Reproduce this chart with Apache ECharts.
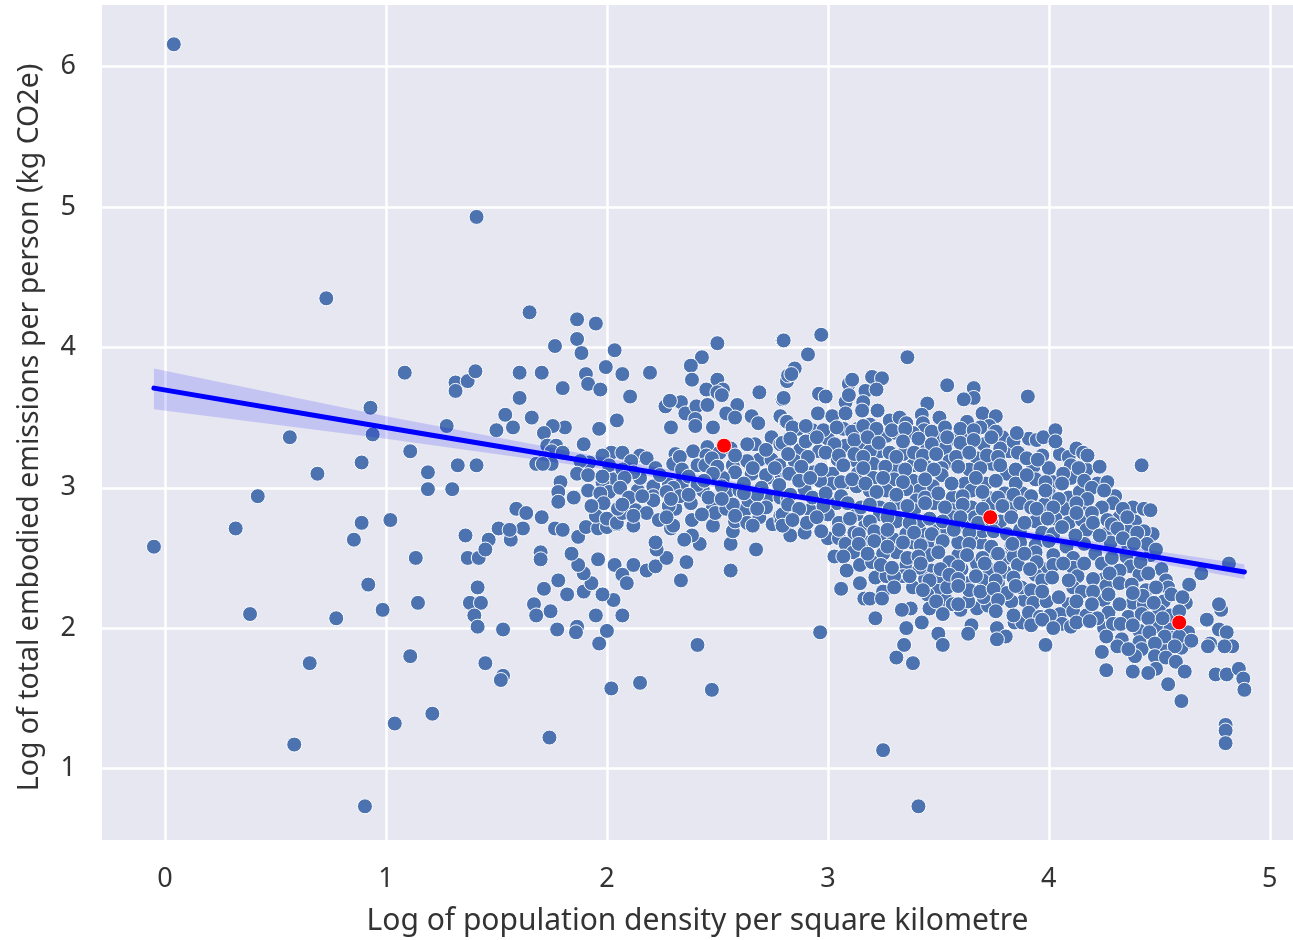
<!DOCTYPE html>
<html><head><meta charset="utf-8">
<script src="https://cdn.jsdelivr.net/npm/echarts@6/dist/echarts.min.js"></script>
<style>html,body{margin:0;padding:0;background:#fff}#c{width:1293px;height:940px}</style>
</head><body><div id="c"></div>
<script>
const xTicks=[0,1,2,3,4,5];
const yTicks=[1,2,3,4,5,6];
const xLabel='Log of population density per square kilometre';
const yLabel='Log of total embodied emissions per person (kg CO2e)';
const sparsePoints=[[.04,6.16],[.73,4.35],[1.41,4.93],[-.05,2.58],[.32,2.71],[.42,2.94],[.565,3.36],[.69,3.10],[.385,2.10],[.775,2.07],[.655,1.75],[.585,1.17],[.905,.73],[1.04,1.32],[1.21,1.39],[1.11,1.80],[.985,2.13],[.92,2.31],[1.145,2.18],[1.135,2.50],[1.02,2.77],[.89,2.75],[.855,2.63],[.89,3.18],[.94,3.38],[.93,3.57],[1.085,3.82],[1.11,3.26],[1.19,3.11],[1.19,2.99],[1.30,2.99],[1.325,3.16],[1.275,3.44],[1.41,3.16],[1.315,3.75],[1.315,3.69],[1.37,3.76],[1.405,3.83],[1.36,2.66],[1.37,2.50],[1.42,2.50],[1.415,2.29],[1.38,2.18],[1.43,2.18],[1.40,2.09],[1.415,2.01],[1.53,1.99],[1.45,1.75],[1.53,1.66],[1.52,1.63],[1.74,1.22],[2.02,1.57],[2.15,1.61],[2.475,1.56],[2.41,1.88],[1.965,1.89],[2.0,1.98],[2.07,2.09],[1.95,2.09],[2.03,2.20],[1.98,2.24],[1.895,2.26],[1.93,2.32],[1.82,2.24],[1.715,2.28],[1.78,2.34],[1.67,2.17],[1.68,2.09],[1.745,2.12],[1.775,1.99],[1.865,2.01],[1.86,1.97],[1.895,2.39],[1.87,2.45],[1.84,2.53],[1.96,2.49],[1.70,2.54],[1.70,2.49],[2.035,2.45],[2.07,2.38],[2.09,2.32],[2.12,2.45],[2.18,2.41],[2.22,2.44],[2.27,2.50],[2.36,2.47],[2.335,2.34],[2.56,2.41],[2.675,2.56],[2.56,2.60],[2.42,2.60],[2.385,2.66],[2.35,2.63],[2.225,2.56],[2.22,2.61],[2.29,2.71],[2.57,2.69],[2.48,2.73],[1.465,2.63],[1.45,2.56],[1.51,2.71],[1.565,2.63],[1.62,2.71],[1.56,2.70],[1.765,2.71],[1.80,2.70],[1.87,2.65],[1.905,2.72],[1.96,2.71],[2.0,2.72],[2.045,2.74],[2.12,2.73],[3.25,1.13],[3.41,.73],[2.965,1.97]];
const midPoints=[[1.65,4.25],[1.865,4.20],[1.95,4.17],[1.865,4.06],[1.765,4.01],[1.885,3.96],[2.035,3.98],[1.995,3.86],[2.07,3.81],[2.195,3.82],[1.905,3.81],[1.915,3.74],[1.97,3.70],[1.80,3.71],[1.605,3.82],[1.705,3.82],[1.605,3.64],[2.105,3.65],[1.54,3.52],[1.66,3.50],[1.575,3.43],[1.50,3.41],[2.045,3.48],[1.965,3.42],[1.81,3.43],[1.755,3.44],[1.715,3.39],[1.895,3.31],[1.73,3.30],[1.77,3.30],[1.75,3.26],[1.80,3.25],[1.72,3.21],[1.68,3.17],[1.75,3.17],[1.71,3.17],[2.02,3.25],[2.07,3.25],[1.98,3.23],[2.15,3.23],[2.18,3.21],[2.11,3.19],[1.92,3.18],[1.88,3.19],[2.01,3.16],[1.865,3.10],[1.915,3.09],[2.03,3.06],[1.98,3.04],[1.79,3.04],[1.78,2.97],[1.78,2.90],[1.85,2.93],[1.915,2.98],[2.01,2.97],[1.97,2.96],[1.985,2.89],[2.14,2.98],[2.21,3.01],[2.21,2.94],[2.21,2.91],[2.15,3.07],[2.28,3.02],[2.34,3.03],[1.59,2.85],[1.635,2.82],[1.705,2.79],[1.95,2.80],[2.0,2.78],[2.045,2.75],[2.13,2.84],[2.18,2.82],[2.07,2.82],[2.05,2.85],[2.235,2.77],[2.31,2.85],[2.38,2.89],[2.385,2.77],[2.30,2.73],[2.48,2.86],[2.49,2.82],[2.54,2.85],[2.58,2.76],[2.625,2.84],[2.635,2.75],[2.69,2.79],[2.75,2.74],[2.50,4.03],[2.43,3.93],[2.38,3.87],[2.385,3.77],[2.50,3.77],[2.525,3.70],[2.45,3.70],[2.50,3.68],[2.52,3.66],[2.795,4.05],[2.69,3.68],[2.795,3.63],[2.335,3.61],[2.265,3.58],[2.285,3.62],[2.355,3.53],[2.405,3.58],[2.455,3.59],[2.59,3.59],[2.54,3.53],[2.58,3.50],[2.40,3.49],[2.40,3.44],[2.29,3.43],[2.48,3.43],[2.655,3.51],[2.685,3.46],[2.745,3.36],[2.67,3.31],[2.635,3.31],[2.39,3.26],[2.455,3.29],[2.51,3.25],[2.31,3.24],[2.45,3.23],[2.41,3.16],[2.445,3.16],[2.30,3.17],[2.475,3.21],[2.785,3.51],[2.81,3.47],[2.785,3.31],[2.815,3.76],[2.57,3.16],[2.58,3.11],[2.655,3.10],[2.69,3.20],[2.635,3.19],[2.745,3.20],[2.77,3.07],[2.815,3.11],[2.725,3.07],[2.525,3.07],[2.54,2.96],[2.435,2.98],[2.64,2.91],[2.60,2.98],[2.73,2.94],[2.785,2.93],[2.785,2.80]];
const westFill=[[2.56,3.28],[2.72,3.27],[2.33,3.22],[2.58,3.23],[2.22,3.14],[2.34,3.13],[2.50,3.15],[2.66,3.14],[2.78,3.16],[2.24,3.09],[2.37,3.08],[2.48,3.10],[2.72,3.09],[2.30,3.00],[2.41,3.02],[2.52,3.01],[2.62,3.03],[2.70,3.00],[2.78,3.02],[2.33,2.94],[2.46,2.93],[2.68,2.95],[2.82,2.92],[2.28,2.87],[2.57,2.88],[2.72,2.86],[2.12,2.80],[2.27,2.79],[2.43,2.81],[2.58,2.80],[2.79,2.76],[2.66,2.73],[2.82,2.74],[2.07,3.13],[2.12,3.11],[1.98,3.08],[2.08,3.07],[2.06,3.00],[2.27,2.97],[2.10,2.93],[2.16,2.94],[2.29,2.92],[1.93,2.87],[2.07,2.88],[2.44,3.05],[2.62,2.96],[2.52,2.92],[2.68,2.85],[2.37,2.95]];
const coreUpper=[[2.97,4.09],[2.80,4.05],[2.91,3.95],[3.36,3.93],[2.85,3.85],[2.82,3.80],[2.835,3.81],[3.54,3.73],[3.66,3.71],[3.66,3.64],[3.615,3.63],[3.905,3.65],[3.20,3.79],[3.245,3.78],[3.095,3.74],[3.11,3.77],[3.17,3.69],[3.22,3.70],[2.96,3.67],[2.99,3.65],[2.80,3.64],[3.08,3.61],[3.16,3.61],[3.095,3.66],[3.45,3.60],[3.155,3.55],[3.225,3.55],[2.955,3.53],[3.02,3.51],[3.08,3.53],[3.505,3.50],[3.70,3.53],[3.76,3.51],[3.63,3.47],[3.28,3.48],[3.325,3.50],[3.355,3.46],[3.425,3.52],[3.43,3.46],[3.73,3.44],[3.69,3.43],[3.855,3.39],[3.79,3.36],[2.815,3.47],[2.865,3.42],[2.93,3.41],[3.07,3.42],[3.135,3.42],[3.19,3.45],[3.265,3.37],[3.31,3.39],[3.435,3.41],[3.385,3.39],[3.63,3.38],[3.57,3.35],[3.50,3.36],[3.705,3.31],[3.82,3.26],[3.78,3.28],[3.00,3.35],[3.08,3.30],[3.155,3.29],[3.235,3.26],[3.19,3.26],[3.34,3.24],[3.45,3.28],[3.53,3.28],[3.675,3.21],[3.62,3.28],[3.895,3.21],[2.875,3.27],[2.96,3.26],[2.795,3.32],[3.045,3.20],[3.13,3.19],[2.85,3.19],[3.385,3.16],[3.30,3.15],[3.205,3.17],[3.445,3.15],[3.55,3.19],[3.515,3.14],[3.64,3.13],[3.745,3.17],[3.81,3.10],[3.89,3.09],[2.825,3.10],[2.935,3.11],[3.02,3.10],[3.135,3.10],[3.30,3.06],[3.205,3.07],[3.515,3.09],[3.385,3.05],[3.62,3.03],[3.715,3.03],[3.475,3.01],[3.09,3.04],[3.02,3.03],[2.965,3.05],[2.895,2.99],[3.415,2.98],[3.355,2.99],[3.265,2.98],[3.19,2.98],[3.13,3.01],[3.565,2.93],[3.65,2.98],[3.80,2.96],[3.88,2.96],[3.725,2.93],[3.48,2.89],[3.40,2.91],[3.31,2.89],[3.04,2.89],[2.92,2.84],[3.00,2.81],[3.745,2.89],[3.83,2.86],[3.65,2.86],[3.565,2.84],[3.39,2.84],[3.235,2.86],[2.795,2.81]];
const coreLower=[[2.83,2.66],[2.895,2.68],[2.795,2.73],[2.905,2.75],[3.00,2.64],[3.05,2.64],[3.08,2.60],[3.115,2.54],[3.03,2.51],[3.07,2.51],[3.18,2.61],[3.17,2.74],[3.245,2.66],[3.30,2.63],[3.31,2.54],[3.25,2.53],[3.085,2.41],[3.145,2.45],[3.20,2.47],[3.355,2.45],[3.215,2.36],[3.265,2.37],[3.145,2.32],[3.34,2.37],[3.30,2.37],[3.06,2.28],[3.25,2.26],[3.165,2.21],[3.19,2.21],[3.245,2.21],[3.385,2.29],[3.47,2.41],[3.44,2.35],[3.495,2.27],[3.45,2.24],[3.215,2.07],[3.375,2.14],[3.335,2.13],[3.46,2.14],[3.535,2.20],[3.425,2.04],[3.355,2.00],[3.345,1.88],[3.31,1.79],[3.385,1.75],[3.50,1.96],[3.52,1.88],[3.65,2.02],[3.635,1.96],[3.60,2.13],[3.675,2.14],[3.725,2.16],[3.705,2.22],[3.635,2.19],[3.635,2.32],[3.565,2.17],[3.765,2.00],[3.805,1.94],[3.765,1.92],[3.845,2.04],[3.88,2.04],[3.89,2.20],[3.83,2.19],[3.875,2.29],[3.77,2.32],[3.80,2.40],[3.73,2.42],[3.70,2.34],[3.885,2.53],[3.805,2.50],[3.83,2.59],[3.745,2.54],[3.69,2.61],[3.655,2.67],[3.59,2.52],[3.59,2.61],[3.49,2.61],[3.43,2.67],[3.45,2.59],[3.385,2.61],[3.36,2.50],[3.415,2.43],[3.55,2.47],[3.46,2.52],[3.505,2.37],[3.605,2.42],[3.675,2.46],[3.54,2.29],[3.64,2.27],[3.81,2.25],[3.565,2.79],[3.665,2.79],[3.89,2.74],[3.31,2.76],[3.235,2.81],[3.12,2.68],[3.355,2.67],[3.13,2.81],[3.495,2.72],[3.415,2.76],[3.61,2.73],[3.54,2.70],[3.78,2.76],[3.70,2.69]];
const coreFill=[[2.84,3.43],[2.90,3.44],[2.98,3.41],[3.04,3.43],[3.11,3.40],[3.16,3.44],[3.22,3.42],[3.29,3.41],[3.35,3.42],[3.47,3.40],[3.53,3.43],[3.60,3.42],[3.66,3.41],[3.76,3.40],[2.83,3.35],[2.90,3.33],[2.95,3.36],[3.03,3.31],[3.12,3.34],[3.18,3.36],[3.23,3.32],[3.34,3.33],[3.41,3.35],[3.47,3.31],[3.54,3.36],[3.60,3.32],[3.66,3.34],[3.74,3.36],[3.84,3.33],[3.91,3.35],[2.82,3.24],[2.91,3.22],[2.99,3.25],[3.05,3.23],[3.12,3.24],[3.16,3.22],[3.28,3.25],[3.31,3.22],[3.39,3.25],[3.43,3.23],[3.49,3.24],[3.58,3.22],[3.64,3.25],[3.72,3.23],[3.77,3.22],[3.86,3.25],[3.97,3.23],[4.05,3.24],[4.09,3.22],[2.76,3.14],[2.88,3.15],[2.97,3.13],[3.07,3.16],[3.16,3.14],[3.26,3.15],[3.35,3.13],[3.42,3.16],[3.48,3.13],[3.59,3.15],[3.69,3.14],[3.78,3.16],[3.85,3.13],[3.93,3.15],[4.0,3.14],[4.10,3.16],[4.17,3.13],[2.87,3.05],[2.92,3.07],[3.06,3.04],[3.11,3.06],[3.17,3.03],[3.25,3.07],[3.34,3.04],[3.44,3.06],[3.56,3.03],[3.67,3.07],[3.76,3.05],[3.85,3.03],[3.94,3.06],[4.02,3.04],[4.10,3.07],[4.22,3.03],[2.83,2.95],[2.93,2.93],[2.99,2.96],[3.06,2.94],[3.22,2.97],[3.31,2.95],[3.44,2.93],[3.50,2.96],[3.61,2.94],[3.70,2.97],[3.77,2.93],[3.84,2.95],[3.92,2.94],[4.0,2.96],[4.09,2.93],[4.14,2.97],[4.30,2.94],[2.82,2.88],[2.87,2.85],[2.98,2.87],[3.09,2.89],[3.15,2.86],[3.19,2.88],[3.28,2.85],[3.36,2.87],[3.44,2.89],[3.53,2.86],[3.61,2.88],[3.70,2.85],[3.79,2.87],[3.87,2.89],[3.92,2.86],[3.98,2.88],[4.07,2.85],[4.16,2.87],[4.29,2.89],[4.38,2.86],[2.84,2.77],[2.95,2.79],[3.05,2.75],[3.10,2.78],[3.19,2.76],[3.27,2.79],[3.37,2.75],[3.46,2.78],[3.52,2.76],[3.60,2.79],[3.68,2.75],[3.74,2.77],[3.83,2.79],[3.94,2.76],[4.03,2.78],[4.09,2.75],[4.15,2.77],[4.32,2.79],[4.39,2.76],[2.97,2.69],[3.05,2.70],[3.14,2.67],[3.21,2.69],[3.27,2.70],[3.39,2.68],[3.47,2.67],[3.57,2.70],[3.64,2.68],[3.75,2.69],[3.81,2.67],[3.87,2.70],[3.97,2.68],[4.02,2.67],[4.17,2.70],[4.27,2.68],[4.36,2.69],[4.47,2.67],[3.14,2.60],[3.21,2.62],[3.27,2.58],[3.34,2.61],[3.42,2.59],[3.52,2.62],[3.64,2.60],[3.74,2.58],[3.87,2.61],[3.94,2.59],[4.0,2.62],[4.08,2.58],[4.16,2.60],[4.28,2.61],[4.36,2.58],[3.18,2.53],[3.41,2.51],[3.50,2.54],[3.63,2.52],[3.70,2.50],[3.77,2.53],[3.84,2.51],[3.94,2.54],[4.02,2.52],[4.11,2.50],[4.21,2.53],[4.35,2.51],[4.46,2.52],[3.24,2.45],[3.29,2.43],[3.42,2.46],[3.51,2.42],[3.59,2.44],[3.71,2.46],[3.78,2.43],[3.86,2.45],[3.98,2.42],[4.02,2.45],[4.11,2.43],[4.24,2.46],[4.37,2.44],[4.51,2.42],[3.37,2.37],[3.46,2.34],[3.55,2.38],[3.59,2.35],[3.67,2.37],[3.76,2.34],[3.84,2.36],[3.94,2.38],[3.97,2.34],[4.13,2.37],[4.25,2.35],[4.41,2.38],[4.53,2.34],[3.30,2.29],[3.43,2.27],[3.59,2.30],[3.69,2.26],[3.75,2.28],[3.85,2.30],[3.92,2.27],[4.11,2.29],[4.15,2.26],[4.26,2.30],[4.44,2.27],[4.54,2.29],[3.49,2.19],[3.59,2.17],[3.77,2.20],[3.93,2.18],[3.99,2.19],[4.09,2.17],[4.25,2.20],[4.38,2.18],[4.43,2.17],[4.52,2.19],[4.62,2.18],[3.52,2.10],[3.76,2.12],[3.84,2.09],[3.91,2.11],[3.96,2.08],[4.05,2.10],[4.11,2.12],[4.17,2.09],[4.27,2.11],[4.36,2.08],[4.42,2.10],[4.50,2.12],[4.55,2.09],[3.92,2.02],[4.06,2.03],[4.10,2.01],[4.25,2.00],[4.29,2.03],[4.41,1.98],[4.50,2.01],[4.55,1.99],[4.63,1.97],[4.33,1.92],[4.41,1.90],[4.56,1.93],[4.63,1.90],[4.42,1.85],[4.52,1.84],[4.60,1.86]];
const eastPoints=[[3.855,3.39],[3.945,3.34],[3.975,3.36],[4.03,3.41],[4.03,3.33],[4.125,3.28],[4.155,3.25],[4.175,3.23],[4.23,3.15],[4.135,3.14],[4.42,3.16],[4.265,3.04],[4.065,3.10],[3.90,3.21],[3.95,3.20],[3.90,3.09],[4.06,3.03],[3.985,3.04],[3.985,2.98],[4.16,3.05],[4.195,3.00],[4.25,2.98],[4.045,2.92],[4.175,2.92],[4.125,2.89],[4.24,2.86],[4.335,2.85],[4.43,2.85],[4.46,2.84],[4.355,2.79],[4.02,2.86],[3.945,2.85],[4.125,2.82],[4.195,2.82],[3.995,2.78],[3.89,2.75],[4.06,2.72],[4.20,2.75],[4.265,2.77],[4.285,2.74],[4.31,2.71],[4.43,2.69],[4.40,2.68],[4.335,2.64],[4.23,2.66],[4.12,2.66],[4.445,2.60],[4.485,2.56],[4.385,2.60],[4.815,2.46],[4.69,2.39],[4.635,2.31],[4.415,2.47],[4.32,2.41],[4.275,2.39],[4.45,2.39],[4.285,2.50],[4.16,2.46],[4.065,2.46],[3.89,2.53],[3.945,2.47],[3.835,2.60],[3.915,2.42],[4.015,2.36],[4.09,2.34],[4.20,2.35],[4.32,2.32],[4.375,2.31],[4.485,2.29],[3.97,2.26],[4.045,2.22],[4.27,2.24],[4.20,2.26],[4.555,2.24],[4.605,2.22],[4.425,2.23],[4.125,2.19],[4.195,2.17],[4.32,2.17],[4.38,2.25],[4.475,2.18],[4.005,2.09],[3.97,2.06],[4.02,2.00],[4.125,2.04],[4.22,2.07],[4.185,2.05],[4.325,2.03],[4.38,2.02],[4.45,2.07],[4.515,2.07],[4.59,2.12],[4.455,1.97],[4.525,1.94],[4.59,1.94],[4.645,1.91],[4.73,1.89],[4.715,2.06],[4.78,2.13],[4.77,2.17],[4.77,1.99],[4.805,1.97],[4.83,1.87],[4.795,1.87],[4.72,1.87],[4.26,1.94],[4.31,1.87],[4.24,1.83],[4.39,1.80],[4.36,1.85],[4.48,1.89],[4.57,1.87],[4.48,1.80],[4.53,1.79],[4.575,1.76],[4.26,1.70],[4.38,1.69],[4.485,1.71],[4.45,1.68],[4.615,1.69],[4.755,1.67],[4.805,1.67],[4.86,1.71],[4.88,1.64],[4.885,1.56],[4.54,1.60],[4.60,1.48],[4.80,1.31],[4.80,1.27],[4.80,1.18],[3.985,1.88]];
const highlightPoints=[[2.53,3.30],[3.735,2.79],[4.59,2.04]];
const fitX=[-.05,1,2,3,4,4.885];
const fitY=[3.71,3.43,3.166,2.90,2.635,2.40];
const bandUpper=[3.85,3.51,3.21,2.92,2.665,2.455];
const bandLower=[3.56,3.35,3.13,2.88,2.605,2.35];

const band=fitX.map((x,i)=>[x,bandLower[i],bandUpper[i]]);
const chart=echarts.init(document.getElementById('c'),null,{renderer:'canvas'});
const fontFamily='"Noto Sans","Open Sans",sans-serif';
const baseAxis=(ticks)=>({type:'value',axisLine:{show:false},
  axisTick:{show:false,customValues:ticks},
  axisLabel:{customValues:ticks,color:'#333',fontSize:27,fontFamily,margin:26},
  splitLine:{show:true,lineStyle:{color:'#fff',width:2.5}}});
chart.setOption({
  animation:false,backgroundColor:'#fff',
  grid:{left:102,right:0,top:5,bottom:100,outerBoundsMode:'none',backgroundColor:'#e7e7f1',show:true,borderWidth:0},
  xAxis:Object.assign(baseAxis(xTicks),{min:-.285,max:5.105,name:xLabel,nameLocation:'middle',nameGap:66,
    nameTextStyle:{color:'#333',fontSize:30,fontFamily}}),
  yAxis:Object.assign(baseAxis(yTicks),{min:.49,max:6.44,name:yLabel,nameLocation:'middle',nameGap:58,
    nameTextStyle:{color:'#333',fontSize:28.5,fontFamily,padding:[0,10,0,0]}}),
  series:[
    {type:'scatter',z:2,symbolSize:15,itemStyle:{color:'#4c72b0',borderColor:'#fff',borderWidth:1,opacity:1},
     data:[].concat(sparsePoints,midPoints,westFill,coreUpper,coreLower,coreFill,eastPoints),silent:true},
    {type:'custom',z:3,silent:true,data:band,encode:{x:0,y:[1,2]},
     renderItem:(p,api)=>{
       if(p.dataIndex!==0)return null;
       const up=band.map(b=>api.coord([b[0],b[2]]));
       const lo=band.map(b=>api.coord([b[0],b[1]])).reverse();
       return {type:'polygon',shape:{points:up.concat(lo)},style:{fill:'rgba(0,0,255,0.15)'}};
     }},
    {type:'line',z:4,silent:true,showSymbol:false,data:fitX.map((x,i)=>[x,fitY[i]]),
     lineStyle:{color:'#0000ff',width:5,cap:'round'}},
    {type:'scatter',z:5,silent:true,symbolSize:15,itemStyle:{color:'#ff0000',borderColor:'#fff',borderWidth:1,opacity:1},data:highlightPoints}
  ]
});
</script></body></html>
